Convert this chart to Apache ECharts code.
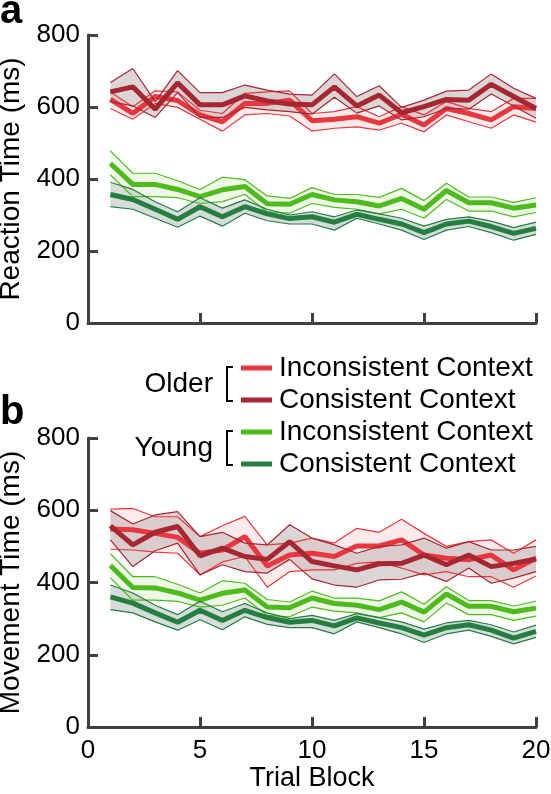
<!DOCTYPE html>
<html>
<head>
<meta charset="utf-8">
<script src="https://cdn.jsdelivr.net/npm/echarts@6/dist/echarts.min.js"></script>
<style>
html,body{margin:0;padding:0;background:#fff;}
#chart{width:551px;height:794px;}
</style>
</head>
<body>
<div id="chart"></div>
<script>
// ---- categories / ticks ----
const blockCategories = ['0','1','2','3','4','5','6','7','8','9','10','11','12','13','14','15','16','17','18','19','20'];
const yTicks = [0, 200, 400, 600, 800];

// ---- Panel a: Reaction Time (ms) ----
const rtOldInc   = [621, 582, 629, 618, 578, 559, 610, 610, 619, 562, 566, 573, 555, 580, 550, 596, 582, 564, 601, 596];
const rtOldIncHi = [642, 601, 645, 642, 591, 582, 638, 642, 645, 582, 587, 601, 573, 601, 578, 615, 596, 587, 624, 624];
const rtOldIncLo = [596, 566, 610, 599, 566, 533, 578, 582, 575, 533, 541, 545, 536, 555, 531, 578, 559, 541, 578, 558];
const rtOldCon   = [642, 656, 594, 667, 606, 606, 631, 617, 608, 606, 656, 603, 633, 584, 601, 621, 619, 663, 629, 596];
const rtOldConHi = [668, 707, 615, 701, 640, 640, 661, 647, 636, 633, 692, 629, 659, 599, 619, 644, 647, 692, 652, 624];
const rtOldConLo = [615, 603, 571, 640, 571, 571, 599, 592, 587, 580, 627, 583, 603, 564, 573, 596, 594, 636, 603, 569];
const rtYngInc   = [443, 385, 385, 371, 351, 370, 379, 331, 330, 357, 342, 337, 325, 346, 316, 368, 334, 334, 319, 328];
const rtYngIncHi = [478, 416, 416, 395, 371, 405, 398, 353, 346, 376, 357, 357, 349, 374, 340, 388, 350, 350, 335, 348];
const rtYngIncLo = [411, 351, 351, 348, 332, 337, 357, 309, 305, 332, 321, 316, 303, 316, 291, 343, 311, 311, 295, 307];
const rtYngCon   = [357, 343, 316, 288, 323, 295, 323, 303, 290, 295, 280, 302, 288, 275, 251, 275, 283, 268, 249, 263];
const rtYngConHi = [391, 371, 337, 309, 348, 319, 342, 316, 300, 309, 295, 314, 303, 291, 269, 288, 295, 283, 265, 280];
const rtYngConLo = [323, 316, 291, 266, 297, 269, 305, 284, 275, 275, 258, 291, 275, 258, 232, 258, 268, 251, 230, 246];

// ---- Panel b: Movement Time (ms) ----
const mtOldInc   = [548, 546, 536, 525, 481, 490, 527, 446, 476, 481, 472, 501, 501, 518, 476, 467, 463, 476, 435, 467];
const mtOldIncHi = [603, 605, 582, 582, 527, 557, 583, 504, 509, 523, 509, 550, 539, 575, 536, 500, 513, 518, 481, 518];
const mtOldIncLo = [492, 490, 484, 481, 421, 457, 472, 387, 430, 435, 435, 453, 457, 440, 421, 430, 416, 416, 387, 418];
const mtOldCon   = [557, 504, 539, 555, 474, 495, 472, 464, 513, 458, 446, 435, 452, 453, 476, 449, 476, 444, 453, 465];
const mtOldConHi = [599, 562, 587, 596, 527, 539, 509, 504, 560, 523, 504, 481, 500, 504, 523, 495, 513, 490, 490, 500];
const mtOldConLo = [518, 444, 488, 509, 421, 449, 430, 426, 464, 410, 393, 387, 407, 409, 426, 403, 440, 398, 412, 430];
const mtYngInc   = [447, 386, 385, 371, 351, 370, 379, 332, 330, 357, 342, 337, 325, 346, 318, 368, 334, 334, 319, 329];
const mtYngIncHi = [480, 416, 416, 395, 371, 405, 398, 353, 346, 376, 357, 357, 349, 374, 340, 388, 350, 350, 335, 348];
const mtYngIncLo = [413, 351, 351, 348, 332, 337, 357, 309, 305, 332, 321, 316, 303, 316, 291, 343, 311, 311, 295, 307];
const mtYngCon   = [360, 343, 316, 290, 323, 295, 323, 303, 290, 295, 280, 302, 288, 275, 254, 275, 283, 268, 246, 265];
const mtYngConHi = [393, 371, 337, 311, 348, 319, 342, 316, 300, 309, 295, 314, 303, 291, 271, 288, 295, 283, 263, 282];
const mtYngConLo = [325, 316, 291, 268, 297, 269, 305, 284, 275, 275, 258, 291, 275, 258, 234, 258, 268, 251, 230, 248];

const seriesNames = ['Older Inconsistent Context', 'Older Consistent Context', 'Young Inconsistent Context', 'Young Consistent Context'];

// ---- styles ----
const FONT = '"Liberation Sans", Arial, Helvetica, sans-serif';
const AXIS_COLOR = '#404040';
const C = {
  oldInc: {line: '#e8373e', fill: 'rgba(240,90,100,0.13)'},
  oldCon: {line: '#a62731', fill: 'rgba(190,178,181,0.55)'},
  yngInc: {line: '#4dbb1c', fill: 'rgba(110,200,60,0.12)'},
  yngCon: {line: '#237e3f', fill: 'rgba(180,192,186,0.55)'}
};

function pad(vals) { return ['-'].concat(vals); }

function group(name, mean, hi, lo, style, idx, key) {
  const diff = hi.map((h, i) => h - lo[i]);
  const stackId = 'band_' + key + '_' + idx;
  const common = {type: 'line', xAxisIndex: idx, yAxisIndex: idx, symbol: 'none', showSymbol: false,
                  silent: true, animation: false, emphasis: {disabled: true}};
  return [
    Object.assign({}, common, {name: name + ' lo', stack: stackId, data: pad(lo),
      lineStyle: {color: style.line, width: 1.2}, itemStyle: {color: style.line}}),
    Object.assign({}, common, {name: name + ' hi', stack: stackId, data: pad(diff),
      lineStyle: {color: style.line, width: 1.2}, itemStyle: {color: style.line},
      areaStyle: {color: style.fill, opacity: 1}}),
    Object.assign({}, common, {name: name, data: pad(mean), color: style.line,
      lineStyle: {color: style.line, width: 5}, itemStyle: {color: style.line}})
  ];
}

function panelSeries(idx, d) {
  return [].concat(
    group(seriesNames[2], d.yi, d.yiHi, d.yiLo, C.yngInc, idx, 'yi'),
    group(seriesNames[3], d.yc, d.ycHi, d.ycLo, C.yngCon, idx, 'yc'),
    group(seriesNames[0], d.oi, d.oiHi, d.oiLo, C.oldInc, idx, 'oi'),
    group(seriesNames[1], d.oc, d.ocHi, d.ocLo, C.oldCon, idx, 'oc')
  );
}

const panelA = {oi: rtOldInc, oiHi: rtOldIncHi, oiLo: rtOldIncLo, oc: rtOldCon, ocHi: rtOldConHi, ocLo: rtOldConLo,
                yi: rtYngInc, yiHi: rtYngIncHi, yiLo: rtYngIncLo, yc: rtYngCon, ycHi: rtYngConHi, ycLo: rtYngConLo};
const panelB = {oi: mtOldInc, oiHi: mtOldIncHi, oiLo: mtOldIncLo, oc: mtOldCon, ocHi: mtOldConHi, ocLo: mtOldConLo,
                yi: mtYngInc, yiHi: mtYngIncHi, yiLo: mtYngIncLo, yc: mtYngCon, ycHi: mtYngConHi, ycLo: mtYngConLo};

function xAxisDef(idx, showLabels) {
  return {
    type: 'category', gridIndex: idx, data: blockCategories, boundaryGap: false,
    axisLine: {show: true, onZero: false, lineStyle: {color: AXIS_COLOR, width: 3}},
    axisTick: {show: true, inside: true, length: 10, interval: 4, lineStyle: {color: AXIS_COLOR, width: 3}},
    axisLabel: {show: showLabels, interval: 4, color: '#000', fontSize: 26, fontFamily: FONT, margin: 11},
    splitLine: {show: false},
    name: showLabels ? 'Trial Block' : '', nameLocation: 'middle', nameGap: 37,
    nameTextStyle: {color: '#000', fontSize: 27, fontFamily: FONT}
  };
}
function yAxisDef(idx, title) {
  return {
    type: 'value', gridIndex: idx, min: yTicks[0], max: yTicks[yTicks.length - 1], interval: 200,
    axisLine: {show: true, lineStyle: {color: AXIS_COLOR, width: 3}},
    axisTick: {show: true, inside: true, length: 10, lineStyle: {color: AXIS_COLOR, width: 3}},
    axisLabel: {color: '#000', fontSize: 26, fontFamily: FONT, margin: 8},
    splitLine: {show: false},
    name: title, nameLocation: 'middle', nameGap: 60,
    nameTextStyle: {color: '#000', fontSize: 28, fontFamily: FONT}
  };
}

const chart = echarts.init(document.getElementById('chart'), null, {renderer: 'canvas'});
chart.setOption({
  animation: false,
  backgroundColor: '#fff',
  textStyle: {fontFamily: FONT},
  grid: [
    {left: 88, right: 15, top: 35, height: 288, containLabel: false, outerBoundsMode: 'none'},
    {left: 88, right: 15, top: 438, height: 289, containLabel: false, outerBoundsMode: 'none'}
  ],
  xAxis: [xAxisDef(0, false), xAxisDef(1, true)],
  yAxis: [yAxisDef(0, 'Reaction Time (ms)'), yAxisDef(1, 'Movement Time (ms)')],
  legend: {
    data: seriesNames, orient: 'vertical', left: 241, top: 352, itemGap: 0, padding: 0,
    icon: 'rect', itemWidth: 31, itemHeight: 5, selectedMode: false,
    formatter: function (n) { return n.replace(/^(Older|Young) /, ''); },
    textStyle: {color: '#000', fontSize: 28, fontFamily: FONT, lineHeight: 32, padding: [0, 0, 0, 2]}
  },
  graphic: [
    {type: 'text', left: 0, top: -8, style: {text: 'a', font: 'bold 40px ' + FONT, fill: '#000'}},
    {type: 'text', left: 0, top: 393, style: {text: 'b', font: 'bold 40px ' + FONT, fill: '#000'}},
    {type: 'text', x: 213, y: 384, style: {text: 'Older', font: '28px ' + FONT, fill: '#000', align: 'right', verticalAlign: 'middle'}},
    {type: 'text', x: 213, y: 448, style: {text: 'Young', font: '28px ' + FONT, fill: '#000', align: 'right', verticalAlign: 'middle'}},
    {type: 'polyline', shape: {points: [[233, 367], [227, 367], [227, 401], [233, 401]]}, style: {stroke: '#000', lineWidth: 2, fill: null}},
    {type: 'polyline', shape: {points: [[233, 431], [227, 431], [227, 465], [233, 465]]}, style: {stroke: '#000', lineWidth: 2, fill: null}}
  ],
  series: [].concat(panelSeries(0, panelA), panelSeries(1, panelB))
});
</script>
</body>
</html>
